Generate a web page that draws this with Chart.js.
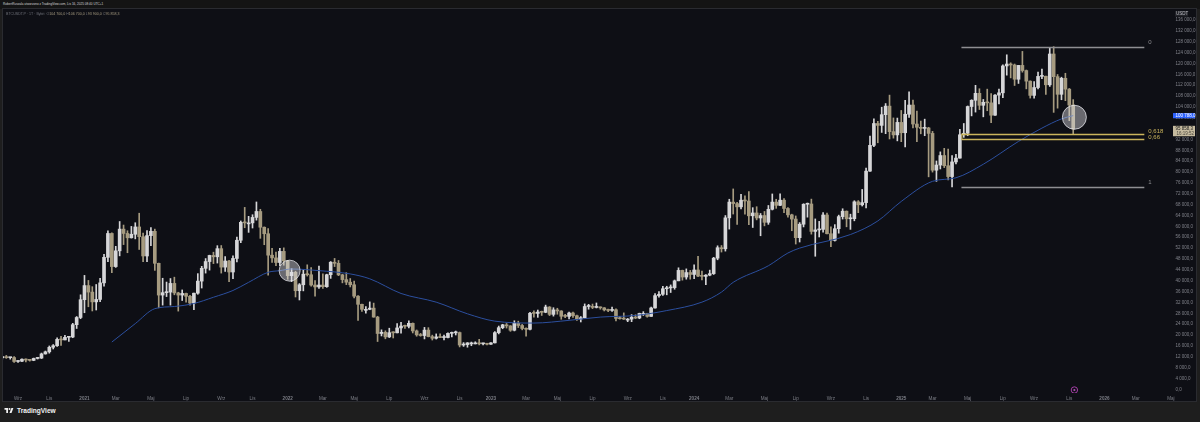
<!DOCTYPE html>
<html>
<head>
<meta charset="utf-8">
<script src="https://cdn.jsdelivr.net/npm/chart.js@4.4.1/dist/chart.umd.min.js"></script>
<style>
  html, body { margin: 0; padding: 0; width: 1200px; height: 422px; overflow: hidden; background: #1e1e1e; font-family: "Liberation Sans", Arial, sans-serif; }
  #top { position: absolute; left: 0; top: 0; width: 1200px; height: 9px; background: #141414; }
  #author { position: absolute; left: 3px; top: 2px; font-size: 3.1px; color: #d4d4d4; white-space: nowrap; }
  #panel { position: absolute; left: 2px; top: 8px; width: 1193px; height: 392px; background: #0e0f15; border: 1px solid #2a2b30; }
  #chart { position: absolute; left: 3px; top: 9px; }
  #legend { position: absolute; left: 6px; top: 11.6px; font-size: 3.6px; color: #70727a; white-space: nowrap; }
  #legend span { color: #a89d82; }
  #logo { position: absolute; left: 4px; top: 407px; display: flex; align-items: center; }
  #logo b { font-size: 6.6px; color: #f2f2f2; margin-left: 3px; font-weight: bold; }
</style>
</head>
<body>
<div id="top"><div id="author">RobertRuszala utworzono z TradingView.com, Lis 16, 2025 08:40 UTC+1</div></div>
<div id="panel"></div>
<canvas id="chart" width="1193" height="392"></canvas>
<div id="legend">BTCUSDT.P · 1T · Bybit &nbsp;O<span>104 700,0</span> H<span>106 700,0</span> L<span>93 900,0</span> C<span>95 858,3</span></div>
<div id="logo">
  <svg width="10" height="7" viewBox="0 0 36 28"><path d="M14 24H7V11H0V4h14v20zM28 24h-8l7.5-20h8L28 24z" fill="#f2f2f2"/><circle cx="20" cy="8" r="4" fill="#f2f2f2"/></svg>
  <b>TradingView</b>
</div>
<script>
// weekly candles, first bar = week of 2020-08-03, values in thousands USDT
const firstWeek = "2020-08-03";

const opens = [
  11.10,11.68,11.90,11.65,11.70,10.25,10.33,11.08,10.77,10.66,
  11.37,11.50,13.03,13.80,15.48,16.05,18.38,18.19,19.15,19.26,
  23.80,26.45,33.00,38.20,35.80,32.20,33.10,39.20,48.60,57.40,
  45.20,51.00,59.00,57.40,55.80,57.10,59.80,56.20,49.10,56.60,
  58.20,46.40,34.70,35.60,35.80,39.00,35.50,34.70,35.30,34.25,
  31.78,35.40,39.85,44.55,47.05,49.30,48.80,51.80,45.00,47.25,
  43.20,48.20,54.90,61.50,61.30,61.30,63.30,65.50,59.70,57.30,
  49.40,48.40,46.70,50.80,47.30,41.85,43.10,36.30,38.50,42.40,
  42.20,38.40,37.70,38.40,37.80,42.20,46.80,46.40,42.15,40.40,
  39.45,38.50,34.30,31.30,29.45,29.45,29.90,26.60,20.55,21.00,
  19.30,20.85,20.80,22.60,23.30,23.20,24.30,21.50,20.05,19.80,
  21.80,19.40,18.80,19.30,19.05,19.07,20.60,20.80,20.90,16.30,
  16.45,17.10,17.10,17.10,16.75,16.85,16.60,17.10,20.87,22.70,
  23.74,23.35,21.75,24.30,23.50,22.40,22.10,28.00,27.95,28.45,
  28.35,30.30,27.60,29.25,28.85,26.90,26.85,28.10,27.10,25.90,
  26.35,30.50,30.58,30.15,30.25,30.00,29.25,29.05,29.30,26.10,
  26.00,25.85,25.85,26.55,26.25,27.95,27.95,26.85,29.95,34.50,
  35.00,37.05,37.35,37.45,39.95,43.80,41.35,43.00,42.30,43.95,
  41.70,41.60,42.05,42.60,48.30,52.15,51.75,63.15,68.95,68.40,
  67.20,69.65,69.35,63.90,64.95,63.10,64.00,61.50,66.30,68.95,
  67.75,69.65,66.60,64.25,62.70,55.85,60.80,68.15,68.25,58.15,
  58.70,58.90,64.20,57.30,54.85,59.15,63.60,65.60,62.80,62.85,
  69.05,67.95,68.75,80.35,89.85,97.90,97.20,101.15,104.30,94.90,
  93.70,98.30,94.50,101.30,104.70,97.70,96.50,96.10,96.25,94.25,
  80.70,82.60,86.10,82.35,78.35,83.75,85.15,93.75,94.30,104.15,
  106.45,109.00,104.60,105.70,105.50,100.95,108.35,109.20,119.10,119.80,
  119.45,114.20,119.30,117.40,113.50,108.25,111.15,115.25,115.30,112.15,
  123.50,115.15,108.65,114.55,110.55,104.70
];
const highs = [
  11.90,12.10,12.48,11.80,12.09,10.60,11.20,11.18,10.95,11.50,
  11.73,13.35,14.10,15.96,16.48,18.95,19.48,19.92,19.40,24.30,
  26.80,34.80,41.95,40.10,37.80,38.60,40.90,49.70,58.40,57.60,
  52.65,61.80,60.50,58.40,60.00,61.35,64.85,57.50,58.45,59.60,
  59.00,46.50,40.90,39.50,40.80,41.30,35.75,36.60,35.40,34.65,
  35.40,42.60,45.30,48.15,49.40,50.50,52.90,52.95,48.85,47.50,
  49.20,56.10,62.00,67.00,63.70,64.30,69.00,66.30,59.80,59.20,
  51.95,50.50,51.95,52.10,47.50,44.45,43.50,38.95,43.95,45.85,
  44.80,40.00,45.40,42.50,42.40,47.05,48.20,47.45,42.40,42.95,
  40.80,39.90,34.50,31.40,30.50,32.20,31.75,26.90,21.90,21.55,
  22.50,21.20,24.25,24.65,23.65,25.20,24.45,21.85,20.60,22.80,
  22.70,19.95,20.40,20.45,19.95,20.80,21.10,21.45,21.10,17.20,
  17.20,17.40,17.50,18.40,17.05,16.95,17.20,21.25,23.30,23.95,
  24.25,23.45,25.25,25.10,23.90,22.65,28.35,28.90,29.20,28.80,
  31.00,30.45,30.05,29.85,28.95,27.65,28.45,28.45,27.35,26.80,
  31.45,31.30,31.40,31.80,30.35,30.10,29.55,30.25,29.65,26.85,
  28.15,26.10,27.50,27.45,28.05,28.60,28.00,30.30,35.25,35.95,
  37.95,37.95,38.45,40.25,44.75,43.90,44.35,43.80,45.85,48.95,
  43.55,42.25,43.90,48.60,52.85,52.95,64.00,70.00,73.80,68.90,
  71.80,71.30,72.80,66.90,67.25,64.75,65.50,67.70,71.95,70.00,
  71.95,70.20,66.95,64.50,63.85,61.40,68.35,68.60,70.05,62.75,
  61.85,65.05,64.95,59.80,60.65,64.15,66.50,65.70,64.50,69.45,
  69.50,73.60,81.50,93.25,99.60,98.70,103.90,105.25,108.35,99.95,
  99.90,102.70,106.40,109.60,106.50,102.50,98.80,99.50,96.50,95.00,
  84.10,87.45,88.75,88.50,86.10,86.50,95.75,97.90,104.35,106.65,
  111.95,110.70,106.75,110.55,108.95,108.55,110.55,119.50,123.20,120.25,
  119.80,119.30,124.45,117.60,113.60,113.35,116.80,117.90,115.40,125.70,
  126.20,115.95,114.95,116.40,110.80,106.70
];
const lows = [
  11.00,11.15,11.38,11.10,9.90,9.88,10.20,10.13,10.37,10.53,
  11.15,11.33,12.95,13.30,14.85,15.75,16.20,18.18,17.60,19.00,
  22.40,26.00,28.20,30.40,28.85,29.20,32.30,38.00,47.00,43.00,
  44.90,49.15,53.30,50.30,55.70,55.40,51.50,47.00,47.05,52.90,
  43.80,30.00,31.00,34.15,31.00,34.80,28.80,32.70,32.10,31.00,
  29.30,35.00,37.30,42.80,43.90,46.30,46.50,42.80,43.40,39.60,
  40.75,46.90,54.00,59.50,57.80,59.40,62.30,55.60,53.25,42.00,
  46.70,45.50,45.55,45.70,40.50,39.65,34.00,32.90,36.25,41.70,
  37.95,34.30,37.20,37.20,37.55,40.85,45.20,41.85,39.20,38.55,
  37.70,33.70,25.40,28.65,28.00,29.30,26.55,17.60,19.65,18.60,
  19.05,18.90,20.75,20.70,22.40,22.65,20.75,19.55,19.55,18.55,
  19.30,18.15,18.50,19.00,18.19,18.90,19.25,20.00,15.60,15.80,
  15.50,16.05,16.70,16.35,16.35,16.35,16.50,17.05,20.40,22.30,
  22.55,21.35,21.50,22.75,21.90,19.55,21.90,26.60,26.50,27.20,
  28.20,27.15,26.95,27.65,25.80,26.35,25.90,26.50,25.35,24.80,
  26.25,29.50,29.70,29.95,29.50,28.85,28.60,28.70,25.15,25.80,
  25.70,24.90,24.90,26.00,26.00,27.20,26.55,26.80,29.90,33.95,
  34.55,34.80,35.65,36.85,39.95,40.20,40.55,40.55,40.75,41.50,
  40.30,38.55,41.80,42.30,47.70,50.55,50.90,59.00,64.55,60.75,
  66.40,64.50,60.65,59.60,62.40,56.55,60.20,60.75,66.05,66.65,
  67.60,65.05,63.40,58.40,53.50,54.25,59.80,63.40,57.15,49.00,
  56.10,57.85,57.25,52.55,54.60,57.50,62.70,59.85,58.90,62.05,
  65.05,67.50,66.80,80.25,89.40,90.80,94.60,94.15,92.20,92.50,
  91.50,91.20,89.25,100.10,96.30,91.25,94.10,93.40,78.25,80.00,
  76.60,81.15,81.65,77.15,74.50,83.00,85.10,92.80,93.40,100.70,
  102.10,103.05,100.35,102.60,98.20,100.85,105.10,107.45,115.70,114.70,
  111.90,112.65,116.80,110.65,107.25,107.25,110.60,114.40,108.60,111.55,
  102.00,103.55,106.65,106.30,98.95,93.90
];
const closes = [
  11.68,11.90,11.65,11.70,10.25,10.33,11.08,10.77,10.66,11.37,
  11.50,13.03,13.80,15.48,16.05,18.38,18.19,19.15,19.26,23.80,
  26.45,33.00,38.20,35.80,32.20,33.10,39.20,48.60,57.40,45.20,
  51.00,59.00,57.40,55.80,57.10,59.80,56.20,49.10,56.60,58.20,
  46.40,34.70,35.60,35.80,39.00,35.50,34.70,35.30,34.25,31.78,
  35.40,39.85,44.55,47.05,49.30,48.80,51.80,45.00,47.25,43.20,
  48.20,54.90,61.50,61.30,61.30,63.30,65.50,59.70,57.30,49.40,
  48.40,46.70,50.80,47.30,41.85,43.10,36.30,38.50,42.40,42.20,
  38.40,37.70,38.40,37.80,42.20,46.80,46.40,42.15,40.40,39.45,
  38.50,34.30,31.30,29.45,29.45,29.90,26.60,20.55,21.00,19.30,
  20.85,20.80,22.60,23.30,23.20,24.30,21.50,20.05,19.80,21.80,
  19.40,18.80,19.30,19.05,19.07,20.60,20.80,20.90,16.30,16.45,
  17.10,17.10,17.10,16.75,16.85,16.60,17.10,20.87,22.70,23.74,
  23.35,21.75,24.30,23.50,22.40,22.10,28.00,27.95,28.45,28.35,
  30.30,27.60,29.25,28.85,26.90,26.85,28.10,27.10,25.90,26.35,
  30.50,30.58,30.15,30.25,30.00,29.25,29.05,29.30,26.10,26.00,
  25.85,25.85,26.55,26.25,27.95,27.95,26.85,29.95,34.50,35.00,
  37.05,37.35,37.45,39.95,43.80,41.35,43.00,42.30,43.95,41.70,
  41.60,42.05,42.60,48.30,52.15,51.75,63.15,68.95,68.40,67.20,
  69.65,69.35,63.90,64.95,63.10,64.00,61.50,66.30,68.95,67.75,
  69.65,66.60,64.25,62.70,55.85,60.80,68.15,68.25,58.15,58.70,
  58.90,64.20,57.30,54.85,59.15,63.60,65.60,62.80,62.85,69.05,
  67.95,68.75,80.35,89.85,97.90,97.20,101.15,104.30,94.90,93.70,
  98.30,94.50,101.30,104.70,97.70,96.50,96.10,96.25,94.25,80.70,
  82.60,86.10,82.35,78.35,83.75,85.15,93.75,94.30,104.15,106.45,
  109.00,104.60,105.70,105.50,100.95,108.35,109.20,119.10,119.80,119.45,
  114.20,119.30,117.40,113.50,108.25,111.15,115.25,115.30,112.15,123.50,
  115.15,108.65,114.55,110.55,104.70,95.86
];

// moving average line (week index, value in thousands)
const maWeeks  = [29,35,40,45,50,55,60,64,69,72,75,82,90,95,103,112,120,127,137,146,154,163,171,180,185,188,197,202,205,218,225,231,239,245,252,261,267,272,275];
const maValues = [17.4,24.2,29.7,30.5,31.6,33.9,36.4,39.4,43.1,43.7,44.3,43.7,42.5,40.7,35.3,32.1,27.8,25.1,24.4,25.4,26.6,27.2,29.0,32.1,35.8,39.4,45.5,50.2,52.0,57.0,62.0,69.2,76.6,77.9,82.9,91.3,96.2,99.6,100.8];

// axis ticks
const yTicks = [0,4,8,12,16,20,24,28,32,36,40,44,48,52,56,60,64,68,72,76,80,84,88,92,96,100,104,108,112,116,120,124,128,132,136];
const tickMonths = ["2020-09","2020-11","2021-01","2021-03","2021-05","2021-07","2021-09","2021-11",
  "2022-01","2022-03","2022-05","2022-07","2022-09","2022-11","2023-01","2023-03","2023-05","2023-07","2023-09","2023-11",
  "2024-01","2024-03","2024-05","2024-07","2024-09","2024-11","2025-01","2025-03","2025-05","2025-07","2025-09","2025-11",
  "2026-01","2026-03","2026-05"];
const tickLabels = ["Wrz","Lis","2021","Mar","Maj","Lip","Wrz","Lis",
  "2022","Mar","Maj","Lip","Wrz","Lis","2023","Mar","Maj","Lip","Wrz","Lis",
  "2024","Mar","Maj","Lip","Wrz","Lis","2025","Mar","Maj","Lip","Wrz","Lis",
  "2026","Mar","Maj"];

// fib retracement drawn on the chart
const fibHigh = 126.2;
const fibLow = 74.4;
const fibLevels = ["0", "0,618", "0,66", "1"];
const fibRatios = [0, 0.618, 0.66, 1];
const lastPrice = 95.8583;
const maLast = 100.788;

const BULL = "#d6d6d8";
const BEAR = "#a69b80";
const FONT = "'Liberation Sans', Arial, sans-serif";

const DAY = 864e5;
const t0 = Date.parse(firstWeek + "T00:00:00Z");
function firstBarOfMonth(ym) {
  const d = new Date(ym + "-01T00:00:00Z");
  while (d.getUTCDay() !== 1) d.setUTCDate(d.getUTCDate() + 1);
  return (d.getTime() - t0) / (7 * DAY);
}
const tickIdx = tickMonths.map(firstBarOfMonth);

function fmtPL(v) {
  const s = (Math.round(v * 10000) / 10).toFixed(1);
  let [i, d] = s.split(".");
  i = i.replace(/\B(?=(\d{3})+(?!\d))/g, " ");
  return i + "," + d;
}

const candleColor = closes.map((c, i) => c >= opens[i] ? BULL : BEAR);
const bodies = closes.map((c, i) => ({ x: i, y: [opens[i], c] }));
const wicks = closes.map((c, i) => ({ x: i, y: [lows[i], highs[i]] }));
const maLine = maWeeks.map((w, i) => ({ x: w, y: maValues[i] }));

// drawings: circles, fib lines, price labels
const marks = {
  circles: [ { x: 74.5, y: 43.7, r: 10.5 }, { x: 275.3, y: 100.2, r: 12 } ],
  fibFrom: 246.4,
  fibTo: 293.2
};

const overlay = {
  id: "overlay",
  afterDatasetsDraw(chart) {
    const { ctx, chartArea: a, scales: { x, y } } = chart;
    ctx.save();
    ctx.beginPath();
    ctx.rect(a.left, a.top, a.right - a.left, a.bottom - a.top);
    ctx.clip();

    // fib lines
    const x1 = x.getPixelForValue(marks.fibFrom), x2 = x.getPixelForValue(marks.fibTo);
    fibRatios.forEach((r, i) => {
      const py = Math.round(y.getPixelForValue(fibHigh - r * (fibHigh - fibLow))) + 0.5;
      const gold = r > 0 && r < 1;
      ctx.strokeStyle = gold ? "#cbb55c" : "#8e8e92";
      ctx.lineWidth = 1.3;
      ctx.beginPath(); ctx.moveTo(x1, py); ctx.lineTo(x2, py); ctx.stroke();
      ctx.fillStyle = gold ? "#cbb55c" : "#8e8e92";
      ctx.font = "6px " + FONT;
      ctx.textBaseline = "bottom";
      ctx.textAlign = "left";
      const ty = r === 0.618 ? py - 0.5 : (r === 0.66 ? py + 0.5 : py - 2);
      ctx.fillText(fibLevels[i], x2 + 4, ty);
    });
    // vertical tick at fib start
    ctx.strokeStyle = "#cbb55c";
    ctx.lineWidth = 1;
    ctx.beginPath();
    ctx.moveTo(x1 + 0.5, y.getPixelForValue(fibHigh - 0.618 * (fibHigh - fibLow)));
    ctx.lineTo(x1 + 0.5, y.getPixelForValue(fibHigh - 0.66 * (fibHigh - fibLow)));
    ctx.stroke();

    // circles
    marks.circles.forEach(c => {
      ctx.beginPath();
      ctx.arc(x.getPixelForValue(c.x), y.getPixelForValue(c.y), c.r, 0, Math.PI * 2);
      ctx.fillStyle = "rgba(230,230,235,0.42)";
      ctx.fill();
      ctx.strokeStyle = "rgba(235,235,240,0.75)";
      ctx.lineWidth = 1;
      ctx.stroke();
    });

    // event marker
    const mx = x.getPixelForValue(275.3), my = a.bottom - 3;
    ctx.beginPath(); ctx.arc(mx, my, 3.2, 0, Math.PI * 2);
    ctx.strokeStyle = "#a43fa6"; ctx.lineWidth = 1; ctx.stroke();
    ctx.beginPath(); ctx.arc(mx, my, 1.1, 0, Math.PI * 2);
    ctx.fillStyle = "#b24cb4"; ctx.fill();
    ctx.restore();
  },
  afterDraw(chart) {
    const { ctx, chartArea: a, scales: { y } } = chart;
    const left = a.right + 1, w = 22;
    ctx.save();
    ctx.font = "4.5px " + FONT;
    ctx.textAlign = "left";
    ctx.textBaseline = "middle";

    // currency tag
    ctx.fillStyle = "#23242a";
    ctx.fillRect(left + 2, 2, 13, 5.5);
    ctx.fillStyle = "#b9bac0";
    ctx.fillText("USDT", left + 3, 4.9);

    // MA value tag
    const my = y.getPixelForValue(maLast);
    ctx.fillStyle = "#2d62ff";
    ctx.fillRect(left, my - 2.6, w, 5.2);
    ctx.fillStyle = "#ffffff";
    ctx.fillText(fmtPL(maLast), left + 2.5, my + 0.2);

    // last price tag with countdown
    const py = y.getPixelForValue(lastPrice);
    ctx.fillStyle = "#c6bb9f";
    ctx.fillRect(left, py - 3.2, w, 10.4);
    ctx.fillStyle = "#1a1a1a";
    ctx.fillText(fmtPL(lastPrice), left + 2.5, py);
    ctx.fillStyle = "#4a463c";
    ctx.fillText("16:19:52", left + 3.5, py + 4.8);
    ctx.restore();
  }
};

new Chart(document.getElementById("chart"), {
  type: "bar",
  data: {
    datasets: [
      {
        type: "line",
        data: maLine,
        borderColor: "#2c4f9e",
        borderWidth: 1,
        pointRadius: 0,
        cubicInterpolationMode: "monotone",
        order: 0
      },
      {
        data: bodies,
        backgroundColor: candleColor,
        barThickness: 3,
        minBarLength: 1,
        grouped: false,
        order: 1
      },
      {
        data: wicks,
        backgroundColor: candleColor,
        barThickness: 1,
        grouped: false,
        order: 2
      }
    ]
  },
  options: {
    responsive: false,
    animation: false,
    events: [],
    layout: { padding: 0 },
    plugins: { legend: { display: false }, tooltip: { enabled: false } },
    scales: {
      x: {
        type: "linear",
        min: 1.151,
        max: 300.28,
        offset: false,
        grid: { display: false, drawTicks: false },
        border: { display: false },
        ticks: {
          autoSkip: false,
          maxRotation: 0,
          padding: 3,
          color: "#7c7e86",
          font: (c) => ({ size: 4.6, family: FONT, weight: /^\d{4}$/.test(tickLabels[c.index] || "") ? "bold" : "normal" }),
          callback: (v, i) => tickLabels[i]
        },
        afterBuildTicks: (s) => { s.ticks = tickIdx.map(v => ({ value: v })); },
        afterFit: (s) => { s.height = 8; s.paddingLeft = 0; s.paddingRight = 0; }
      },
      y: {
        position: "right",
        min: -1.363,
        max: 140.07,
        grid: { display: false, drawTicks: false },
        border: { display: false },
        ticks: {
          autoSkip: false,
          padding: 3.5,
          color: "#80828a",
          font: { size: 4.5, family: FONT },
          callback: (v) => fmtPL(v)
        },
        afterBuildTicks: (s) => { s.ticks = yTicks.map(v => ({ value: v })); },
        afterFit: (s) => { s.width = 24; s.paddingTop = 0; s.paddingBottom = 0; }
      }
    }
  },
  plugins: [overlay]
});
</script>
</body>
</html>
